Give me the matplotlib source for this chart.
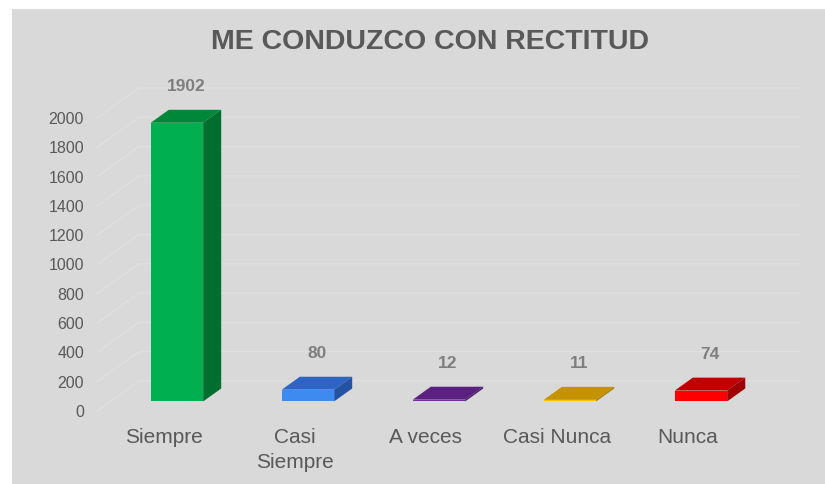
import matplotlib

matplotlib.use("Agg")
import matplotlib.pyplot as plt
from matplotlib.patches import Polygon, Rectangle

plt.rcParams["font.family"] = ["Liberation Sans", "DejaVu Sans"]

CATEGORIES = ["Siempre", "Casi\nSiempre", "A veces", "Casi Nunca", "Nunca"]
VALUES = [1902, 80, 12, 11, 74]
Y_TICKS = [0, 200, 400, 600, 800, 1000, 1200, 1400, 1600, 1800, 2000]
TITLE = "ME CONDUZCO CON RECTITUD"

FRONT_COLORS = ["#00B050", "#3D8AF0", "#7030A0", "#FFC000", "#FF0000"]
TOP_COLORS = ["#00873A", "#2E65C2", "#5B2180", "#C59300", "#C00000"]
SIDE_COLORS = ["#006E2E", "#2553A3", "#4A1A68", "#A67C00", "#A00000"]

BG = "#D9D9D9"
GRID = "#E0E0E0"
TEXT = "#595959"
VALUE_TEXT = "#7F7F7F"

# fake 3d: depth vector in data units, z in [0, 1]
DEPTH_X = 0.32
DEPTH_Y = 205.0
Z_FRONT = 0.32
Z_BACK = 0.75
BAR_W = 0.4
X_LIM = (-0.508, 4.858)
Y_LIM = (0, 2464)

W, H = 825, 484
fig = plt.figure(figsize=(W / 100, H / 100), dpi=100, facecolor="white")
fig.patches.append(
    Rectangle((12 / W, 0), 1 - 12 / W, 1 - 9 / H, transform=fig.transFigure,
              facecolor=BG, edgecolor="none", zorder=-10)
)

ax = fig.add_axes([97 / W, (H - 411) / H, (800 - 97) / W, (411 - 50) / H])
ax.set_facecolor("none")
ax.set_xlim(*X_LIM)
ax.set_ylim(*Y_LIM)
for s in ax.spines.values():
    s.set_visible(False)

# gridlines: slanted floor-side segment, then along the back wall
for v in Y_TICKS:
    ax.plot([X_LIM[0], X_LIM[0] + DEPTH_X, X_LIM[1]], [v, v + DEPTH_Y, v + DEPTH_Y],
            color=GRID, linewidth=0.8, zorder=1, clip_on=False)

xs = list(range(len(CATEGORIES)))
fx = [x + Z_FRONT * DEPTH_X for x in xs]
base = Z_FRONT * DEPTH_Y
ax.bar(fx, VALUES, width=BAR_W, bottom=base, color=FRONT_COLORS, zorder=3)

dxb = (Z_BACK - Z_FRONT) * DEPTH_X
dyb = (Z_BACK - Z_FRONT) * DEPTH_Y
for x, v, tc, sc in zip(fx, VALUES, TOP_COLORS, SIDE_COLORS):
    xl, xr = x - BAR_W / 2, x + BAR_W / 2
    top = v + base
    ax.add_patch(Polygon([(xl, top), (xr, top), (xr + dxb, top + dyb), (xl + dxb, top + dyb)],
                         closed=True, facecolor=tc, edgecolor="none", zorder=3))
    ax.add_patch(Polygon([(xr, base), (xr + dxb, base + dyb), (xr + dxb, top + dyb), (xr, top)],
                         closed=True, facecolor=sc, edgecolor="none", zorder=3))
    ax.annotate(str(v), (x + dxb / 2, top + dyb), xytext=(0, 17), textcoords="offset points",
                ha="center", va="center", fontsize=12.5, fontweight="bold", color=VALUE_TEXT)

ax.set_yticks(Y_TICKS)
ax.set_yticklabels([str(t) for t in Y_TICKS])
ax.set_xticks(xs)
ax.set_xticklabels(CATEGORIES)
for lbl in ax.get_xticklabels():
    lbl.set_linespacing(1.4)
ax.tick_params(axis="y", length=0, pad=9.4, labelsize=11.5, labelcolor=TEXT)
ax.tick_params(axis="x", length=0, pad=12.5, labelsize=15, labelcolor=TEXT)

fig.text(430 / W, 1 - 42 / H, TITLE, ha="center", va="center",
         fontsize=20.5, fontweight="bold", color=TEXT)

fig.savefig("out.png", dpi=100, facecolor="white")
